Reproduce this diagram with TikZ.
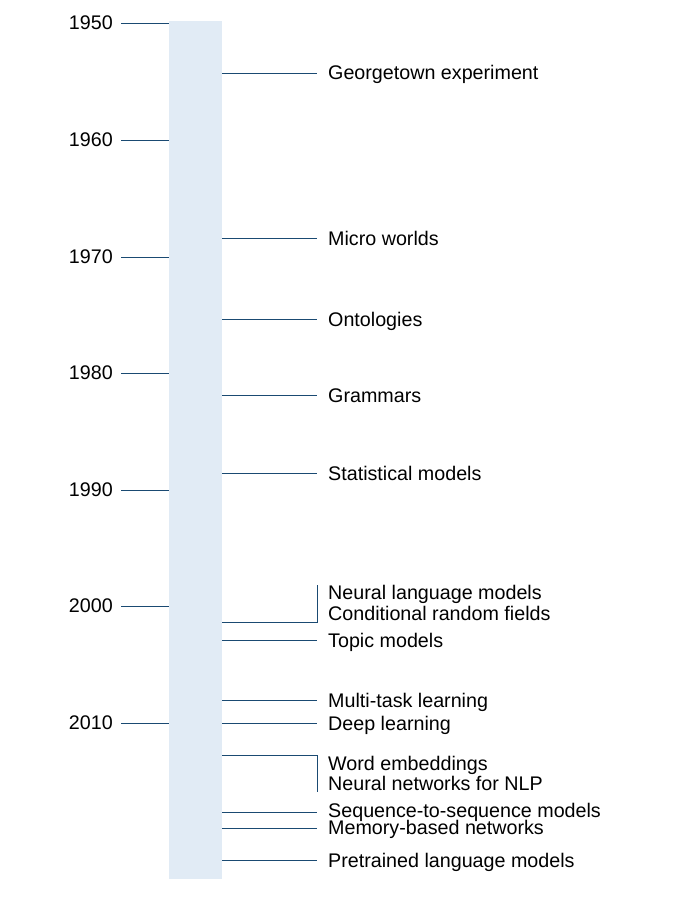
\documentclass[tikz,border=0pt]{standalone}
\usepackage{fontspec}
\setmainfont{Liberation Sans}
\definecolor{barc}{HTML}{E1EBF5}
\definecolor{linec}{HTML}{1A4A72}
\begin{document}
\begin{tikzpicture}[x=1pt,y=-1pt,
  ln/.style={draw=linec,line width=1pt},
  lbl/.style={anchor=base west,inner xsep=11pt,inner ysep=0pt,font=\fontsize{19.7}{22}\selectfont,text=black},
  yr/.style={anchor=base east,inner xsep=8pt,inner ysep=0pt,font=\fontsize{19.7}{22}\selectfont,text=black}]
\useasboundingbox (0,0) rectangle (700,899);
\node[fill=barc,draw=none,minimum width=53pt,minimum height=858pt,inner sep=0pt,anchor=north west] (bar) at (169,21) {};
% years
\foreach \y/\v in {1950/24,1960/140,1970/257,1980/373,1990/490,2000/606,2010/723}{
  \coordinate (cy\y) at (121,\v);
  \node[yr] (y\y) at (121,\v+6) {\y};
  \draw[ln] (cy\y) -- (bar.west |- cy\y);
}
% single events
\foreach \n/\v/\b/\t in {geo/73/80/Georgetown experiment,micro/238/245.5/Micro worlds,onto/319/326/Ontologies,gram/395/402/Grammars,stat/473/480/Statistical models,topic/640/647/Topic models,mtl/700/707/Multi-task learning,deep/723/730/Deep learning,seq/812.5/817/Sequence-to-sequence models,mem/828.5/834.5/Memory-based networks,pre/860.5/867/Pretrained language models}{
  \coordinate (c\n) at (317,\v);
  \node[lbl] (\n) at (317,\b) {\t};
  \draw[ln] (bar.east |- c\n) -- (c\n);
}
% bracket 1
\node[lbl] (nlm) at (317,599) {Neural language models};
\node[lbl] (crf) at (317,620.7) {Conditional random fields};
\coordinate (b1top) at (317,585);
\coordinate (b1bot) at (317,622);
\draw[ln] (bar.east |- b1bot) -- (b1bot) -- (b1top);
% bracket 2
\node[lbl] (we) at (317,770) {Word embeddings};
\node[lbl] (nn) at (317,790) {Neural networks for NLP};
\coordinate (b2top) at (317,755);
\coordinate (b2bot) at (317,792);
\draw[ln] (bar.east |- b2top) -- (b2top) -- (b2bot);
\end{tikzpicture}
\end{document}
